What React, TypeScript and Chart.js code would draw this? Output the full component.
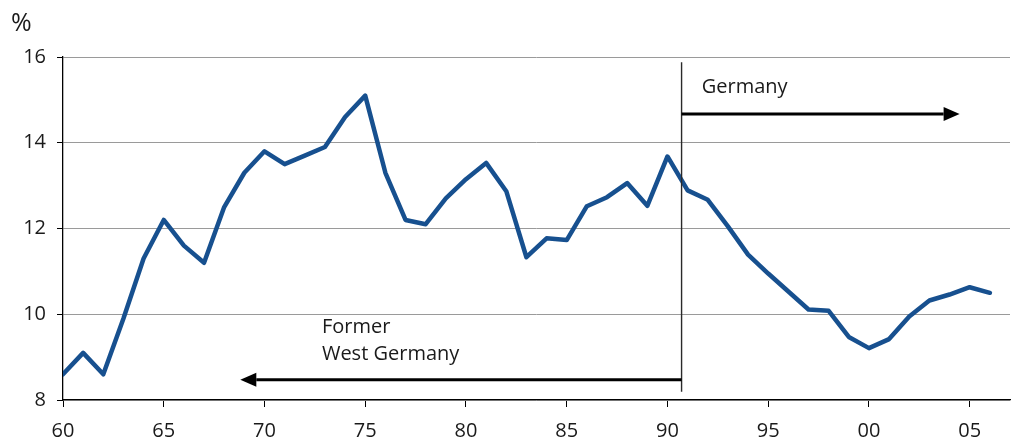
import React, { useEffect, useRef } from "react";
import { Chart, registerables } from "chart.js";

Chart.register(...registerables);

const years: number[] = [
  1960, 1961, 1962, 1963, 1964, 1965, 1966, 1967, 1968, 1969,
  1970, 1971, 1972, 1973, 1974, 1975, 1976, 1977, 1978, 1979,
  1980, 1981, 1982, 1983, 1984, 1985, 1986, 1987, 1988, 1989,
  1990, 1991, 1992, 1993, 1994, 1995, 1996, 1997, 1998, 1999,
  2000, 2001, 2002, 2003, 2004, 2005, 2006,
];
const rates: number[] = [
  8.6, 9.1, 8.6, 9.9, 11.3, 12.2, 11.6, 11.2, 12.5, 13.3,
  13.8, 13.5, 13.7, 13.9, 14.6, 15.1, 13.3, 12.2, 12.1, 12.7,
  13.15, 13.53, 12.87, 11.33, 11.77, 11.73, 12.52, 12.73, 13.06, 12.53,
  13.68, 12.89, 12.67, 12.05, 11.39, 10.95, 10.53, 10.11, 10.08, 9.47,
  9.21, 9.42, 9.95, 10.32, 10.46, 10.63, 10.5,
];
const yTicks: number[] = [8, 10, 12, 14, 16];
const xTickYears: number[] = [1960, 1965, 1970, 1975, 1980, 1985, 1990, 1995, 2000, 2005];

const FONT = "'Open Sans', 'DejaVu Sans', sans-serif";
const LINE_COLOR = "#17508f";

// annotation anchors in data units
const divideYear = 1990.7;
const divideTop = 15.88;
const divideBottom = 8.19;
const germanyArrow = { y: 14.67, from: 1990.7, to: 2004.5 };
const westArrow = { y: 8.47, from: 1990.7, to: 1968.8 };
const germanyLabel = { x: 1991.7, y: 15.3, text: "Germany" };
const westLabels = [
  { x: 1972.85, y: 9.7, text: "Former" },
  { x: 1972.85, y: 9.07, text: "West Germany" },
];

const annotationPlugin = {
  id: "annotations",
  afterDatasetsDraw(chart: any) {
    const { ctx, scales } = chart;
    const xs = scales.x;
    const ys = scales.y;
    ctx.save();
    // divider
    ctx.strokeStyle = "#2a2a2a";
    ctx.lineWidth = 1.4;
    ctx.beginPath();
    const dx = xs.getPixelForValue(divideYear);
    ctx.moveTo(dx, ys.getPixelForValue(divideTop));
    ctx.lineTo(dx, ys.getPixelForValue(divideBottom));
    ctx.stroke();

    const arrow = (a: { y: number; from: number; to: number }) => {
      const py = ys.getPixelForValue(a.y);
      const x0 = xs.getPixelForValue(a.from);
      const x1 = xs.getPixelForValue(a.to);
      const dir = Math.sign(x1 - x0);
      const headLen = 16;
      ctx.strokeStyle = "#000";
      ctx.fillStyle = "#000";
      ctx.lineWidth = 3;
      ctx.beginPath();
      ctx.moveTo(x0, py);
      ctx.lineTo(x1 - dir * headLen, py);
      ctx.stroke();
      ctx.beginPath();
      ctx.moveTo(x1, py);
      ctx.lineTo(x1 - dir * headLen, py - 7);
      ctx.lineTo(x1 - dir * headLen, py + 7);
      ctx.closePath();
      ctx.fill();
    };
    arrow(germanyArrow);
    arrow(westArrow);

    ctx.fillStyle = "#1a1a1a";
    ctx.font = `20px ${FONT}`;
    ctx.textAlign = "left";
    ctx.textBaseline = "middle";
    ctx.fillText(germanyLabel.text, xs.getPixelForValue(germanyLabel.x), ys.getPixelForValue(germanyLabel.y));
    for (const l of westLabels) {
      ctx.fillText(l.text, xs.getPixelForValue(l.x), ys.getPixelForValue(l.y));
    }
    // unit label
    ctx.font = `25px ${FONT}`;
    ctx.textBaseline = "alphabetic";
    ctx.fillText("%", 11, 31);
    ctx.restore();
  },
};

export default function App() {
  const ref = useRef<HTMLCanvasElement | null>(null);
  useEffect(() => {
    if (!ref.current) return;
    const chart = new Chart(ref.current, {
      type: "line",
      data: {
        datasets: [
          {
            data: years.map((y, i) => ({ x: y, y: rates[i] })),
            borderColor: LINE_COLOR,
            borderWidth: 4.5,
            pointRadius: 0,
            tension: 0,
            borderJoinStyle: "round",
            borderCapStyle: "round",
          },
        ],
      },
      options: {
        animation: false,
        responsive: false,
        devicePixelRatio: 1,
        layout: { padding: { top: 57, right: 8, left: 0, bottom: 0 } },
        plugins: { legend: { display: false }, tooltip: { enabled: false } },
        scales: {
          x: {
            type: "linear",
            min: 1960,
            max: 2007,
            afterBuildTicks: (s: any) => {
              s.ticks = xTickYears.map((v) => ({ value: v }));
            },
            afterFit: (s: any) => {
              s.height = 47;
            },
            ticks: {
              font: { family: FONT, size: 20 },
              color: "#1a1a1a",
              padding: 12,
              maxRotation: 0,
              autoSkip: false,
              callback: (v: any) => String(Number(v) % 100).padStart(2, "0"),
            },
            grid: {
              drawOnChartArea: false,
              drawTicks: true,
              tickLength: 7,
              tickColor: "#000",
            },
            border: { color: "#000", width: 1.3 },
          },
          y: {
            min: 8,
            max: 16,
            afterBuildTicks: (s: any) => {
              s.ticks = yTicks.map((v) => ({ value: v }));
            },
            afterFit: (s: any) => {
              s.width = 63;
            },
            ticks: {
              font: { family: FONT, size: 20 },
              color: "#1a1a1a",
              padding: 11,
            },
            grid: {
              color: "#9a9a9a",
              lineWidth: 1,
              drawTicks: true,
              tickLength: 6,
              tickColor: "#000",
            },
            border: { color: "#000", width: 1.3 },
          },
        },
      },
      plugins: [annotationPlugin],
    } as any);
    return () => chart.destroy();
  }, []);
  return (
    <div style={{ position: "absolute", left: 0, top: 0, width: 1018, height: 447, background: "#fff" }}>
      <canvas ref={ref} width={1018} height={447} />
    </div>
  );
}
